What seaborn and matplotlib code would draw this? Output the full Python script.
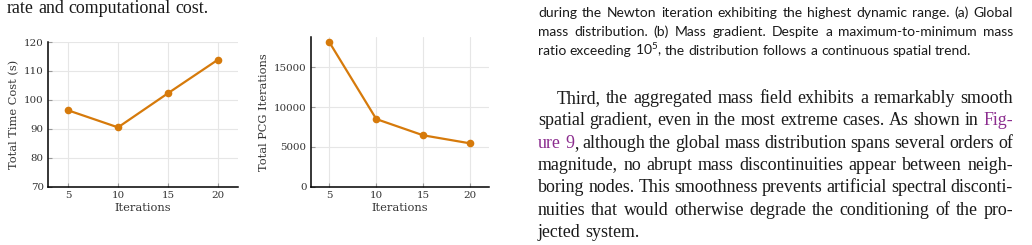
import matplotlib
matplotlib.use("Agg")
import matplotlib.pyplot as plt
import seaborn as sns
import pandas as pd
from matplotlib.transforms import IdentityTransform

# ---------------- data ----------------
iterations = [5, 10, 15, 20]
time_cost = [96.4, 90.5, 102.3, 113.9]
pcg_iterations = [18140, 8500, 6460, 5450]
time_yticks = [70, 80, 90, 100, 110, 120]
pcg_yticks = [0, 5000, 10000, 15000]

sns.set_theme(style="ticks")
plt.rcParams['font.family'] = ['DejaVu Serif']
plt.rcParams['mathtext.fontset'] = 'custom'
plt.rcParams['mathtext.rm'] = 'Lato'
plt.rcParams['mathtext.it'] = 'Lato:italic'

W, H = 1032, 245
fig = plt.figure(figsize=(W / 100, H / 100), dpi=100)
fig.patch.set_facecolor("white")

ax1 = fig.add_axes([48 / W, 1 - 186.7 / H, 190 / W, 144.7 / H])
ax2 = fig.add_axes([310.7 / W, 1 - 186.7 / H, 178 / W, 149.4 / H])

df = pd.DataFrame({
    "Iterations": iterations,
    "Total Time Cost (s)": time_cost,
    "Total PCG Iterations": pcg_iterations,
})

LINE_COLOR = "#D67A0B"
TEXT_COLOR = "#333333"
for ax, col in [(ax1, "Total Time Cost (s)"), (ax2, "Total PCG Iterations")]:
    sns.lineplot(data=df, x="Iterations", y=col, ax=ax, color=LINE_COLOR,
                 marker="o", markersize=5.5, markeredgewidth=0, linewidth=1.6)
    ax.set_xlim(3, 22)
    ax.set_xticks(iterations)
    ax.grid(True, color="#e6e6e6", linewidth=0.8)
    ax.set_axisbelow(True)
    ax.tick_params(direction="in", length=3, width=0.8, color="#999999",
                   labelsize=7.4, labelcolor=TEXT_COLOR, pad=3)
    sns.despine(ax=ax)
    for s in ("left", "bottom"):
        ax.spines[s].set_linewidth(1.1)
        ax.spines[s].set_color("black")
    ax.set_xlabel("Iterations", fontsize=8.2, color=TEXT_COLOR, labelpad=2.5)
    ax.set_ylabel(col, fontsize=8.2, color=TEXT_COLOR, labelpad=3.5)

ax1.set_ylim(70, 120)
ax1.set_yticks(time_yticks)
ax2.set_ylim(bottom=0)
ax2.set_yticks(pcg_yticks)

# ---------------- page text ----------------
renderer = fig.canvas.get_renderer()
PURPLE = "#8B2C8E"
BODY_FONT = dict(family="Liberation Serif", size=12.9, color="#1a1a1a")
CAP_FONT = dict(family="Lato", size=10.0, color="#1a1a1a")


def draw_line(words, x0, x1, y, font, justify=True):
    """words: list of words; each word is a string or list of (text, color)."""
    word_arts = []
    widths = []
    for w in words:
        segs = [(w, font["color"])] if isinstance(w, str) else w
        arts = []
        tot = 0
        for txt, c in segs:
            t = fig.text(0, H - y, txt, transform=IdentityTransform(),
                         family=font["family"], fontsize=font["size"],
                         color=c, va="baseline", ha="left")
            bb = t.get_window_extent(renderer)
            arts.append((t, bb.width))
            tot += bb.width
        word_arts.append(arts)
        widths.append(tot)
    probe1 = fig.text(0, 0, "n n", family=font["family"], fontsize=font["size"])
    probe2 = fig.text(0, 0, "nn", family=font["family"], fontsize=font["size"])
    space = probe1.get_window_extent(renderer).width - probe2.get_window_extent(renderer).width
    probe1.remove()
    probe2.remove()
    if justify and len(words) > 1:
        space = (x1 - x0 - sum(widths)) / (len(words) - 1)
    x = x0
    for arts, wd in zip(word_arts, widths):
        xx = x
        for t, sw in arts:
            t.set_x(xx)
            xx += sw
        x += wd + space


# top-left line (end of the preceding paragraph)
draw_line("rate and computational cost.".split(), 7, 213, 12.5, BODY_FONT, justify=False)

# caption (right)
cap_lines = [
    ("during the Newton iteration exhibiting the highest dynamic range. (a) Global", True),
    ("mass distribution. (b) Mass gradient. Despite a maximum-to-minimum mass", True),
    ("ratio exceeding 10$^5$, the distribution follows a continuous spatial trend.", False),
]
cy = 16.7
for txt, just in cap_lines:
    draw_line(txt.split(" "), 538, 1013, cy, CAP_FONT, justify=just)
    cy += 19.3

# body paragraph
body_lines = [
    ("Third, the aggregated mass field exhibits a remarkably smooth".split(), 556.7, True),
    ("spatial gradient, even in the most extreme cases. As shown in".split()
     + [[("Fig-", PURPLE)]], 538, True),
    ([[("ure", PURPLE)], [("9", PURPLE), (",", BODY_FONT["color"])]]
     + "although the global mass distribution spans several orders of".split(), 538, True),
    ("magnitude, no abrupt mass discontinuities appear between neigh-".split(), 538, True),
    ("boring nodes. This smoothness prevents artificial spectral disconti-".split(), 538, True),
    ("nuities that would otherwise degrade the conditioning of the pro-".split(), 538, True),
    ("jected system.".split(), 538, False),
]
by = 103.0
for words, x0, just in body_lines:
    draw_line(words, x0, 1013, by, BODY_FONT, justify=just)
    by += 22.3

fig.savefig("out.png", dpi=100, facecolor="white")
